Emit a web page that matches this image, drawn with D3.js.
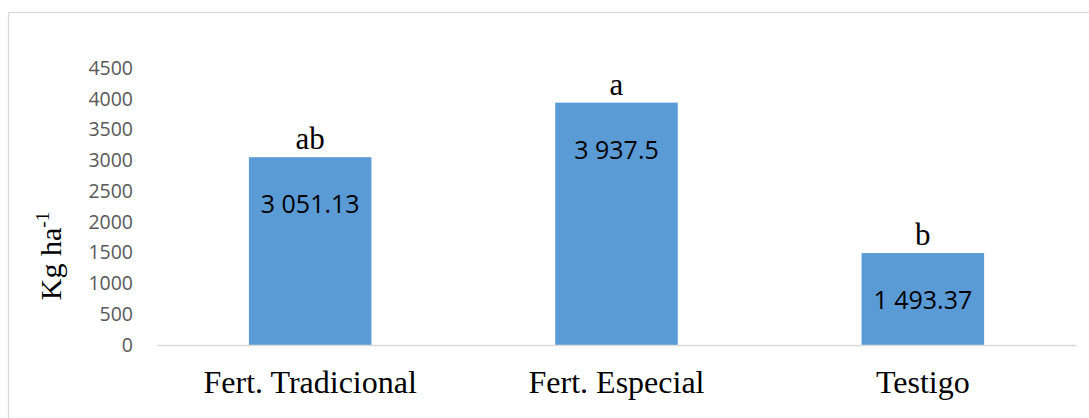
<!DOCTYPE html>
<html>
<head>
<meta charset="utf-8">
<script src="https://cdn.jsdelivr.net/npm/d3@7"></script>
<style>
  html, body { margin: 0; padding: 0; background: #fff; }
  svg { display: block; }
</style>
</head>
<body>
<svg id="chart" width="1089" height="418"></svg>
<script>
// Rendimiento por tratamiento (Kg ha-1)
const categories = ["Fert. Tradicional", "Fert. Especial", "Testigo"];
const values = [3051.13, 3937.5, 1493.37];
const valueLabels = ["3 051.13", "3 937.5", "1 493.37"];
const groupLetters = ["ab", "a", "b"];
const yTicks = [0, 500, 1000, 1500, 2000, 2500, 3000, 3500, 4000, 4500];

const svg = d3.select("#chart");
const W = 1089, H = 418;
const plot = { left: 157, right: 1076, top: 68, bottom: 345 };
const serif = "'Liberation Serif', 'Times New Roman', serif";
const sans = "'Open Sans', 'Liberation Sans', sans-serif";

// chart frame
svg.append("rect")
  .attr("x", 8.5).attr("y", 12.5)
  .attr("width", W + 10).attr("height", H + 10)
  .attr("fill", "none").attr("stroke", "#d9d9d9").attr("stroke-width", 1.3);

const x = d3.scaleBand()
  .domain(categories)
  .range([plot.left, plot.right])
  .paddingInner(0.6)
  .paddingOuter(0.3);

const y = d3.scaleLinear()
  .domain([0, 4500])
  .range([plot.bottom, plot.top]);

// y axis tick labels
const yAxis = d3.axisLeft(y).tickValues(yTicks).tickFormat(d3.format("d")).tickSize(0).tickPadding(0);
const yg = svg.append("g").attr("transform", `translate(133,0)`).call(yAxis);
yg.select(".domain").remove();
yg.selectAll("text")
  .attr("fill", "#595959")
  .style("font-family", sans)
  .style("font-size", "19.5px");

// bars
svg.append("g").selectAll("rect")
  .data(values)
  .join("rect")
  .attr("x", (d, i) => x(categories[i]))
  .attr("width", x.bandwidth())
  .attr("y", d => y(d))
  .attr("height", d => y(0) - y(d))
  .attr("fill", "#5b9bd5");

// category axis
const xAxis = d3.axisBottom(x).tickSize(0).tickPadding(0);
const xg = svg.append("g").attr("transform", `translate(0,${plot.bottom})`).call(xAxis);
xg.select(".domain").attr("stroke", "#d9d9d9").attr("stroke-width", 1.3);
xg.selectAll("text")
  .attr("fill", "#000")
  .attr("dy", 0)
  .attr("y", 48)
  .style("font-family", serif)
  .style("font-size", "32px");

// value labels inside bars
svg.append("g").selectAll("text")
  .data(values)
  .join("text")
  .attr("x", (d, i) => x(categories[i]) + x.bandwidth() / 2)
  .attr("y", d => y(d) + 56)
  .attr("text-anchor", "middle")
  .style("font-family", sans)
  .style("font-size", "25px")
  .attr("fill", "#000")
  .text((d, i) => valueLabels[i]);

// significance letters above bars
svg.append("g").selectAll("text")
  .data(values)
  .join("text")
  .attr("x", (d, i) => x(categories[i]) + x.bandwidth() / 2)
  .attr("y", d => y(d) - 8)
  .attr("text-anchor", "middle")
  .style("font-family", serif)
  .style("font-size", "31px")
  .attr("fill", "#000")
  .text((d, i) => groupLetters[i]);

// y axis title
const yt = svg.append("text")
  .attr("transform", "translate(61,256) rotate(-90)")
  .attr("text-anchor", "middle")
  .style("font-family", serif)
  .style("font-size", "30px")
  .attr("fill", "#000");
yt.append("tspan").text("Kg ha");
yt.append("tspan").attr("dy", -12).style("font-size", "19px").text("-1");
</script>
</body>
</html>
